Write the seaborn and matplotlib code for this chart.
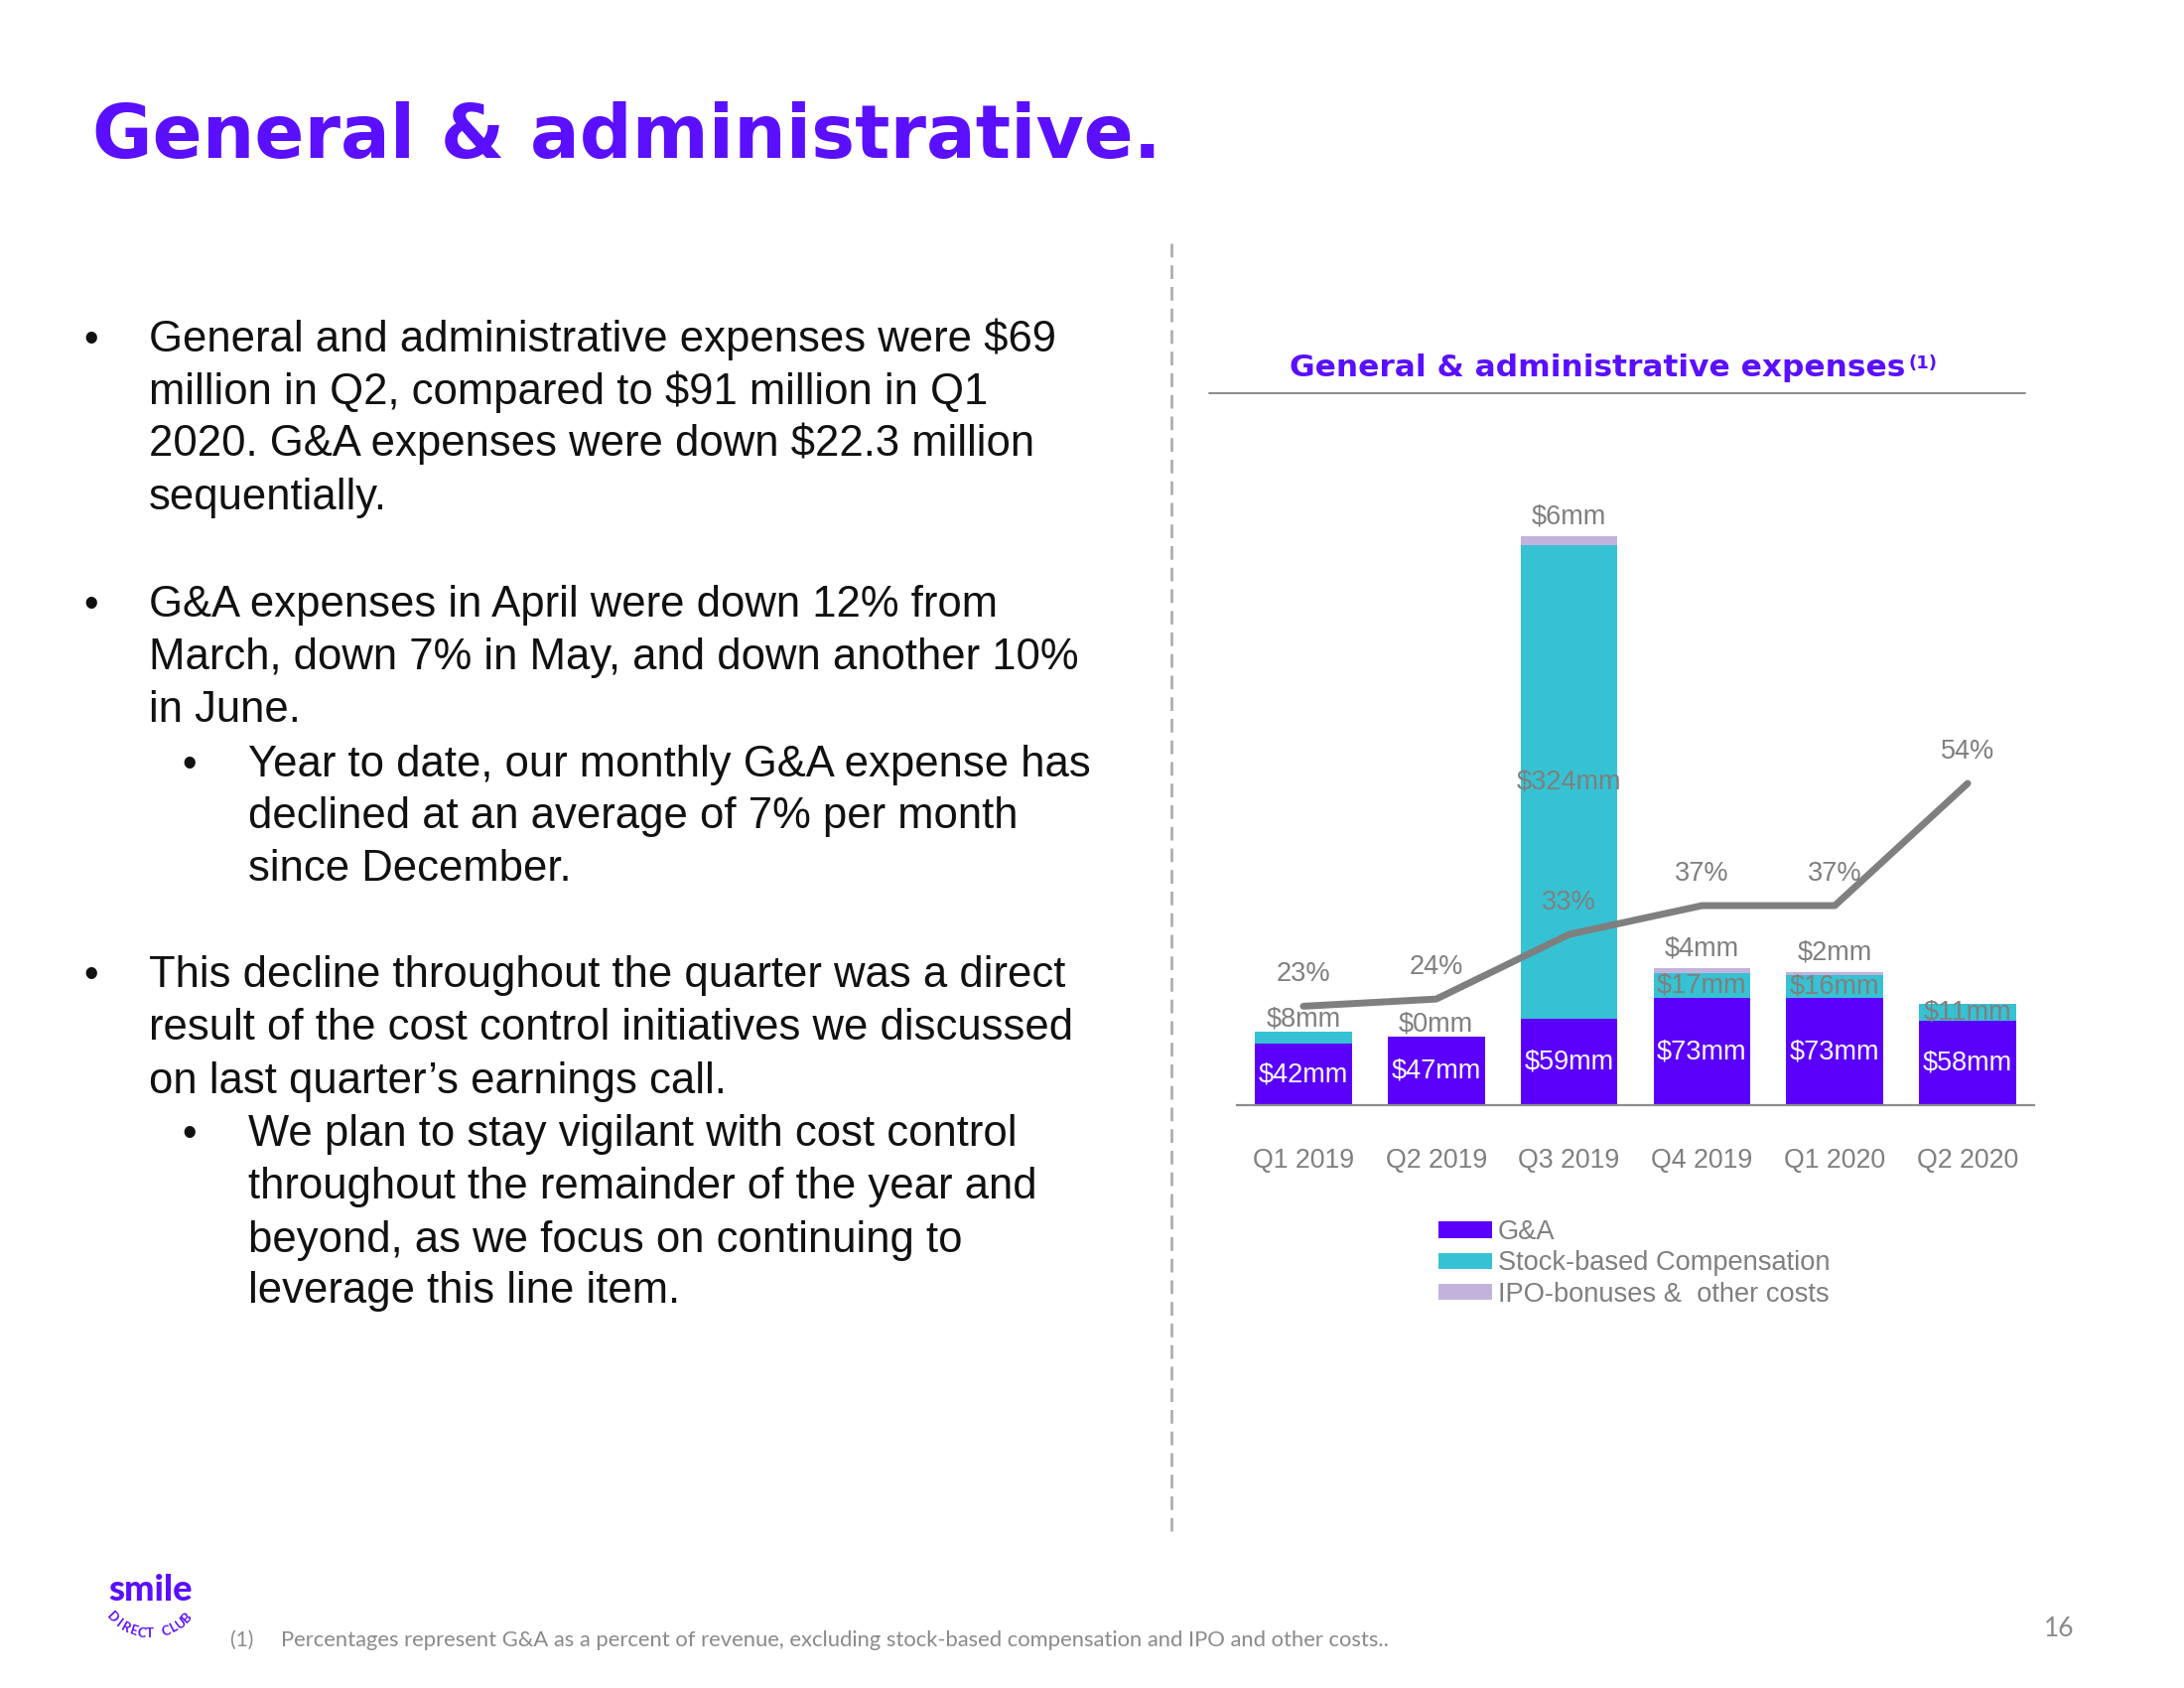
import numpy as np
import pandas as pd
import matplotlib
matplotlib.use("Agg")
import matplotlib.pyplot as plt
import seaborn as sns
from matplotlib.lines import Line2D
from matplotlib.patches import Patch

# ---------------- data ----------------
quarters = ["Q1 2019", "Q2 2019", "Q3 2019", "Q4 2019", "Q1 2020", "Q2 2020"]
ga_vals = [42, 47, 59, 73, 73, 58]          # G&A ($mm)
sbc_vals = [8, 0, 324, 17, 16, 11]          # Stock-based compensation ($mm)
ipo_vals = [0, 0, 6, 4, 2, 0]               # IPO-bonuses & other costs ($mm)
pct_vals = [23, 24, 33, 37, 37, 54]         # G&A as % of revenue
legend_labels = ["G&A", "Stock-based Compensation", "IPO-bonuses &  other costs"]

title = "General & administrative."
chart_title = "General & administrative expenses"
footnote = "Percentages represent G&A as a percent of revenue, excluding stock-based compensation and IPO and other costs.."
page_no = "16"

bullets = [
    (0, ["General and administrative expenses were $69",
         "million in Q2, compared to $91 million in Q1",
         "2020. G&A expenses were down $22.3 million",
         "sequentially."]),
    (0, ["G&A expenses in April were down 12% from",
         "March, down 7% in May, and down another 10%",
         "in June."]),
    (1, ["Year to date, our monthly G&A expense has",
         "declined at an average of 7% per month",
         "since December."]),
    (0, ["This decline throughout the quarter was a direct",
         "result of the cost control initiatives we discussed",
         "on last quarter\u2019s earnings call."]),
    (1, ["We plan to stay vigilant with cost control",
         "throughout the remainder of the year and",
         "beyond, as we focus on continuing to",
         "leverage this line item."]),
]

# ---------------- style ----------------
C_GA = "#5A00FA"
C_SBC = "#36C2D3"
C_IPO = "#C3B3DC"
C_LINE = "#7F7F7F"
C_GRAY = "#7F7F7F"
C_TITLE = "#5A0FFF"
C_TEXT = "#111111"

sns.set_style("white")
plt.rcParams["font.family"] = ["Liberation Sans", "DejaVu Sans"]
HEAD_FONT = ["DejaVu Sans"]
SMALL_FONT = ["Lato", "DejaVu Sans"]

W, H = 2200, 1700
fig = plt.figure(figsize=(22, 17), dpi=100)
fig.patch.set_facecolor("white")


def fx(px):
    return px / W


def fy(py):
    return 1 - py / H


# ---------------- chart axes ----------------
ax_left, ax_right, ax_bottom, ax_top = 1246, 2049, 1113, 477
ax = fig.add_axes([fx(ax_left), fy(ax_bottom), (ax_right - ax_left) / W, (ax_bottom - ax_top) / H])

df = pd.DataFrame({"quarter": quarters, "ga": ga_vals, "sbc": sbc_vals, "ipo": ipo_vals})
ga_arr = np.array(ga_vals, dtype=float)
sbc_arr = np.array(sbc_vals, dtype=float)
ipo_arr = np.array(ipo_vals, dtype=float)

BAR_W = 0.73
sns.barplot(data=df, x="quarter", y="ga", color=C_GA, saturation=1, width=BAR_W, ax=ax,
            linewidth=0)
sns.barplot(data=df, x="quarter", y="sbc", bottom=ga_arr, color=C_SBC, saturation=1,
            width=BAR_W, ax=ax, linewidth=0)
sns.barplot(data=df, x="quarter", y="ipo", bottom=ga_arr + sbc_arr, color=C_IPO, saturation=1,
            width=BAR_W, ax=ax, linewidth=0)

ax.set_xlim(-0.5, len(quarters) - 0.5)
ax.set_ylim(0, 431.8)
ax.set_xlabel("")
ax.set_ylabel("")
ax.set_yticks([])
ax.tick_params(axis="x", length=0, pad=31, labelsize=19.3, labelcolor=C_GRAY)
for s in ["top", "left", "right"]:
    ax.spines[s].set_visible(False)
ax.spines["bottom"].set_color("#8C8C8C")
ax.spines["bottom"].set_linewidth(1.6)

# secondary axis for the percentage line
ax2 = ax.twinx()
xpos = np.arange(len(quarters))
sns.lineplot(x=xpos, y=pct_vals, ax=ax2, color=C_LINE, linewidth=5, legend=False,
             solid_capstyle="round", solid_joinstyle="round")
ax2.set_ylim(9.24, 97.1)
ax2.set_yticks([])
ax2.set_ylabel("")
for s in ax2.spines.values():
    s.set_visible(False)

LBL = 19.5
for i in range(len(quarters)):
    # G&A labels (white, centred in segment)
    ax.text(i, ga_arr[i] / 2, f"${ga_vals[i]}mm", color="white", ha="center", va="center",
            fontsize=LBL)
    # SBC labels
    top_sbc = ga_arr[i] + sbc_arr[i]
    if sbc_arr[i] >= 10:
        ax.text(i, ga_arr[i] + sbc_arr[i] / 2, f"${sbc_vals[i]}mm", color=C_GRAY,
                ha="center", va="center", fontsize=LBL)
    else:
        ax.annotate(f"${sbc_vals[i]}mm", (i, top_sbc), xytext=(0, 9), textcoords="offset points",
                    ha="center", va="center", color=C_GRAY, fontsize=LBL)
    # IPO labels
    if ipo_arr[i] > 0:
        ax.annotate(f"${ipo_vals[i]}mm", (i, top_sbc + ipo_arr[i]), xytext=(0, 14),
                    textcoords="offset points", ha="center", va="center", color=C_GRAY,
                    fontsize=LBL)
    # percentage labels
    ax2.annotate(f"{pct_vals[i]}%", (i, pct_vals[i]), xytext=(0, 23), textcoords="offset points",
                 ha="center", va="center", color=C_GRAY, fontsize=LBL)

# legend
handles = [Patch(facecolor=c, edgecolor="none") for c in [C_GA, C_SBC, C_IPO]]
fig.legend(handles, legend_labels, loc="upper left", bbox_to_anchor=(fx(1449), fy(1228)),
           frameon=False, fontsize=19.6, handlelength=2.0, handleheight=0.55, handletextpad=0.2,
           labelspacing=0.2, borderpad=0, borderaxespad=0, labelcolor=C_GRAY)

# chart title + superscript + underline
ct = fig.text(fx(1299), fy(379), chart_title, fontsize=22.5, fontweight="bold", family=HEAD_FONT,
              color=C_TITLE, ha="left", va="baseline")
ax.annotate("(1)", xy=(1, 1), xycoords=ct, xytext=(2, -1), textcoords="offset points",
            fontsize=13, fontweight="bold", family=HEAD_FONT, color=C_TITLE,
            ha="left", va="top", annotation_clip=False)
fig.add_artist(Line2D([fx(1218), fx(2040)], [fy(396), fy(396)], color="#808080", lw=1.3,
                      transform=fig.transFigure))

# dashed divider
fig.add_artist(Line2D([fx(1180), fx(1180)], [fy(245), fy(1548)], color="#A6A6A6", lw=1.8,
                      linestyle=(0, (5.5, 3.2)), transform=fig.transFigure))

# ---------------- page title ----------------
fig.text(fx(93), fy(159), title, fontsize=53.2, fontweight="bold", family=HEAD_FONT,
         color=C_TITLE, ha="left", va="baseline")

# ---------------- bullet text ----------------
line_centres = [[241, 279, 316, 354], [431, 469, 507], [546, 583, 621], [697, 735, 773],
                [811, 849, 887, 924]]
for (level, lines), centres in zip(bullets, line_centres):
    bx = 84 if level == 0 else 183
    tx = 150 if level == 0 else 250
    for j, (ln, c) in enumerate(zip(lines, centres)):
        base = c * 1.4031 + 16
        if j == 0:
            fig.text(fx(bx), fy(base), "\u2022", fontsize=30, color=C_TEXT, ha="left",
                     va="baseline")
        fig.text(fx(tx), fy(base), ln, fontsize=31.4, color=C_TEXT, ha="left", va="baseline")

# ---------------- footnote & page number ----------------
fig.text(fx(232), fy(1658), "(1)", fontsize=15, color="#8A8A8A", family=SMALL_FONT,
         ha="left", va="baseline")
fig.text(fx(283), fy(1658), footnote, fontsize=15.8, color="#8A8A8A", family=SMALL_FONT,
         ha="left", va="baseline")
fig.text(fx(2074), fy(1648), page_no, fontsize=19, color="#8A8A8A", family=SMALL_FONT,
         ha="center", va="baseline")

# ---------------- logo ----------------
fig.text(fx(151), fy(1612), "smile", fontsize=26, fontweight="black", family=SMALL_FONT,
         color=C_TITLE, ha="center", va="baseline")
arc_text = "DIRECT CLUB"
cx, cy, R = 151, 1593, 52
angles = np.linspace(-46, 46, len(arc_text))
for ch, a in zip(arc_text, angles):
    if ch == " ":
        continue
    r = np.deg2rad(a)
    px = cx + R * np.sin(r)
    py = cy + R * np.cos(r)
    fig.text(fx(px), fy(py), ch, fontsize=9.5, fontweight="bold", family=SMALL_FONT,
             color=C_TITLE, ha="center", va="center", rotation=a)

fig.savefig("out.png", dpi=100, facecolor="white")
